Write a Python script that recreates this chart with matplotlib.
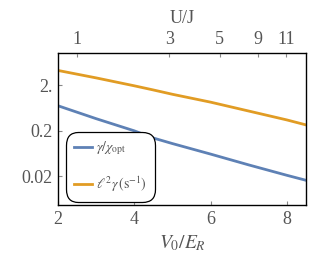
import matplotlib as mpl
mpl.use('Agg')
import matplotlib.pyplot as plt
import numpy as np

# ------------------------------------------------------------------ DATA
v0 = [2.0, 3.0, 4.0, 4.5, 5.0, 6.0, 7.0, 8.0, 8.5]
gamma_chi = [0.711, 0.370, 0.200, 0.139, 0.105, 0.0617, 0.0357, 0.0211, 0.0164]
l2_gamma = [4.24, 2.91, 1.95, 1.58, 1.27, 0.853, 0.544, 0.347, 0.270]

x_ticks = [2, 4, 6, 8]
y_ticks = [0.02, 0.2, 2.0]
y_labels = ['0.02', '0.2', '2.']

# U/J tick positions on the V0/ER axis
uj_pos = [2.5, 4.92, 6.24, 7.24, 7.97]
uj_labels = ['1', '3', '5', '9', '11']

blue = '#5E81B5'
orange = '#E19C24'
grey = '#555555'

plt.rcParams['mathtext.fontset'] = 'stix'
plt.rcParams['font.family'] = 'Liberation Serif'

fig = plt.figure(figsize=(3.32, 2.60), dpi=100)
ax = fig.add_axes([0.1747, 0.2115, 0.747, 0.5865])

ax.plot(v0, gamma_chi, '-', color=blue, lw=2.0, label=r'$\gamma/\chi_{\rm opt}$')
ax.plot(v0, l2_gamma, '-', color=orange, lw=2.0, label=r'$\ell^2\gamma\,(\mathrm{s}^{-1})$')

ax.set_yscale('log')
ax.set_xlim(2.0, 8.5)
ax.set_ylim(0.0047, 10.5)
ax.set_xticks(x_ticks)
ax.set_xticklabels([str(t) for t in x_ticks])
ax.set_yticks(y_ticks)
ax.set_yticklabels(y_labels)
ax.minorticks_off()
ax.tick_params(direction='in', length=3, width=0.8, color='#888888',
			   labelsize=13, labelcolor=grey, pad=4)
ax.set_xlabel(r'$V_0/E_R$', fontsize=14, color=grey, labelpad=4)

for s in ax.spines.values():
	s.set_color('#444444')
	s.set_linewidth(1.0)

ax2 = ax.twiny()
ax2.set_xlim(ax.get_xlim())
ax2.set_xticks(uj_pos)
ax2.set_xticklabels(uj_labels)
ax2.tick_params(direction='in', length=3, width=0.8, color='#888888',
				labelsize=13, labelcolor=grey, pad=3)
ax2.set_xlabel('U/J', fontsize=13, color=grey, labelpad=6)

leg = ax.legend(loc='lower left', bbox_to_anchor=(0.032, 0.02), borderaxespad=0,
				fontsize=10, frameon=True, fancybox=True, edgecolor='black',
				handlelength=1.3, handletextpad=0.35, labelspacing=1.25,
				borderpad=0.55, framealpha=1.0)
leg.get_frame().set_boxstyle('round', pad=0, rounding_size=0.9)
leg.get_frame().set_linewidth(0.9)
for t in leg.get_texts():
	t.set_color(grey)

fig.savefig('out.png', dpi=100)
